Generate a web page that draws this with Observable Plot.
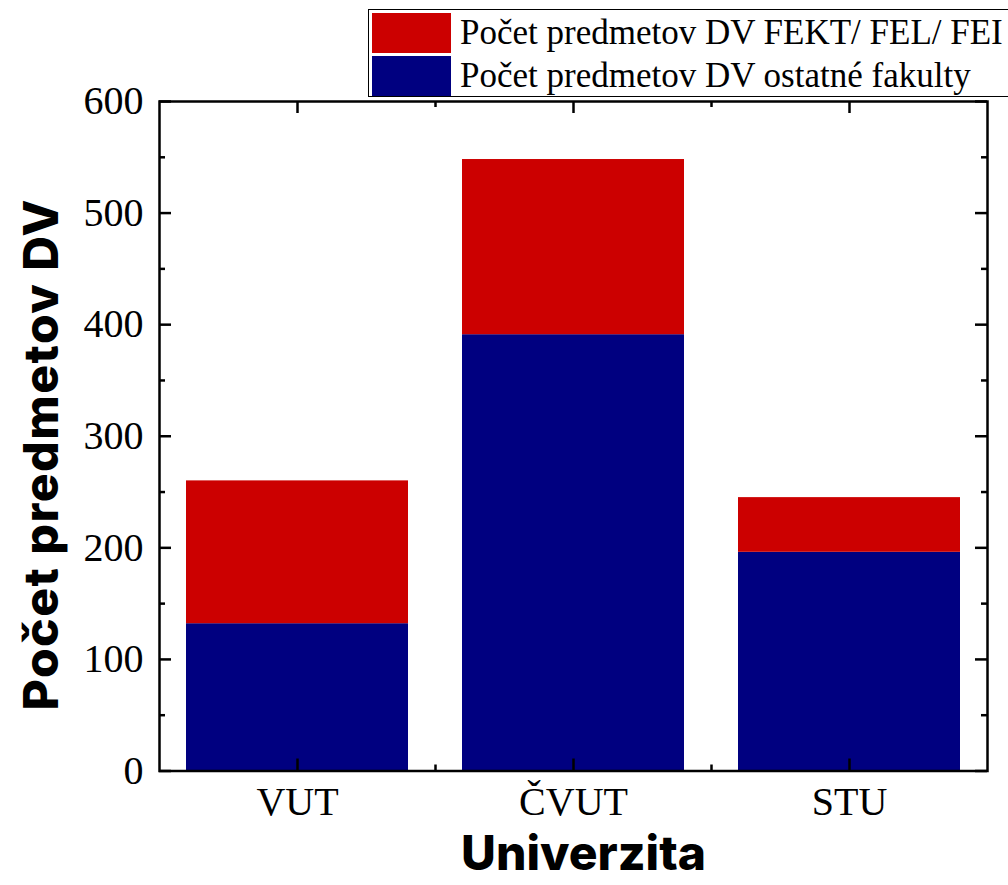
<!DOCTYPE html>
<html>
<head>
<meta charset="utf-8">
<script src="https://cdn.jsdelivr.net/npm/d3@7"></script>
<script src="https://cdn.jsdelivr.net/npm/@observablehq/plot@0.6"></script>
<style>
  html, body { margin: 0; padding: 0; background: #fff; }
  #wrap { position: relative; width: 1008px; height: 885px; overflow: hidden; }
  #legend {
    position: absolute; left: 368px; top: 9px; width: 640px; height: 88px;
    border: 1.5px solid #000; border-right: none; background: #fff; box-sizing: border-box;
    font-family: "Liberation Serif", "Times New Roman", serif; font-size: 35px; color: #000;
  }
  .item { position: absolute; left: 3px; height: 40px; display: flex; align-items: center; }
  .sw { width: 79px; height: 40px; margin-right: 9px; flex: none; }
  .lab { white-space: nowrap; line-height: 40px; }
</style>
</head>
<body>
<div id="wrap"></div>
<script>
// ---- data ----
const universities = ["VUT", "ČVUT", "STU"];
const seriesNames = ["Počet predmetov DV ostatné fakulty", "Počet predmetov DV FEKT/ FEL/ FEI"];
const otherFaculties = [132, 391, 196];
const electroFaculties = [128, 157, 49];
const seriesColors = ["#000080", "#cc0000"];
const legendOrder = ["Počet predmetov DV FEKT/ FEL/ FEI", "Počet predmetov DV ostatné fakulty"];
const yMajorTicks = [0, 100, 200, 300, 400, 500, 600];
const yMinorTicks = [50, 150, 250, 350, 450, 550];
const xTitle = "Univerzita";
const yTitle = "Počet predmetov DV";

const rows = [];
universities.forEach((u, i) => {
  rows.push({univ: u, series: seriesNames[0], value: otherFaculties[i]});
  rows.push({univ: u, series: seriesNames[1], value: electroFaculties[i]});
});

// ---- layout ----
const W = 1008, H = 885;
const mL = 159, mR = 21, mT = 101, mB = 114.5;
const plotW = W - mL - mR, plotH = H - mT - mB;
const padIn = 0.194, padOut = 0.097;
const step = plotW / (universities.length - padIn + 2 * padOut);
const major = 12, minor = 6, sw = 2.5;
const serif = "Liberation Serif, Times New Roman, serif";
const sans = "Inter, Roboto, sans-serif";

const chart = Plot.plot({
  width: W, height: H,
  marginLeft: mL, marginRight: mR, marginTop: mT, marginBottom: mB,
  style: {background: "#fff"},
  x: {type: "band", domain: universities, paddingInner: padIn, paddingOuter: padOut, label: null},
  y: {domain: [0, 600], label: null},
  color: {domain: seriesNames, range: seriesColors},
  marks: [
    Plot.barY(rows, {x: "univ", y: "value", fill: "series"}),
    // axes labels only
    Plot.axisY(yMajorTicks, {tickSize: 0, tickPadding: 16, fontSize: 40, fontFamily: serif, fill: "#000", label: null}),
    Plot.axisX(universities, {tickSize: 0, tickPadding: 16, fontSize: 40, fontFamily: serif, fill: "#000", label: null}),
    // inward ticks: left
    Plot.tickY(yMajorTicks, {y: d => d, insetRight: plotW - major, stroke: "#000", strokeWidth: sw}),
    Plot.tickY(yMinorTicks, {y: d => d, insetRight: plotW - minor, stroke: "#000", strokeWidth: sw}),
    // right
    Plot.tickY(yMajorTicks, {y: d => d, insetLeft: plotW - major, stroke: "#000", strokeWidth: sw}),
    Plot.tickY(yMinorTicks, {y: d => d, insetLeft: plotW - minor, stroke: "#000", strokeWidth: sw}),
    // bottom
    Plot.tickX(universities, {x: d => d, insetTop: plotH - major, stroke: "#000", strokeWidth: sw}),
    Plot.tickX(universities.slice(0, -1), {x: d => d, dx: step / 2, insetTop: plotH - minor, stroke: "#000", strokeWidth: sw}),
    // top
    Plot.tickX(universities, {x: d => d, insetBottom: plotH - major, stroke: "#000", strokeWidth: sw}),
    Plot.tickX(universities.slice(0, -1), {x: d => d, dx: step / 2, insetBottom: plotH - minor, stroke: "#000", strokeWidth: sw}),
    Plot.frame({stroke: "#000", strokeWidth: sw}),
    // titles
    Plot.text([yTitle], {frameAnchor: "left", rotate: -90, dx: -117, dy: 18, text: d => d,
      fontSize: 48, fontWeight: 800, fontFamily: sans, fill: "#000", textAnchor: "middle", lineAnchor: "middle",
      className: "ytitle"}),
    Plot.text([xTitle], {frameAnchor: "bottom", dx: 10, dy: 84, text: d => d,
      fontSize: 48, fontWeight: 800, fontFamily: sans, fill: "#000", textAnchor: "middle", lineAnchor: "middle"})
  ]
});

d3.select(chart).selectAll(".ytitle text").style("letter-spacing", "1.5px");

const wrap = document.getElementById("wrap");
wrap.appendChild(chart);

// legend (colours from the chart's colour scale)
const color = chart.scale("color");
const legend = document.createElement("div");
legend.id = "legend";
legendOrder.forEach((name, i) => {
  const idx = color.domain.indexOf(name);
  const item = document.createElement("div");
  item.className = "item";
  item.style.top = (3 + i * 43) + "px";
  const s = document.createElement("div");
  s.className = "sw";
  s.style.background = color.range[idx];
  const t = document.createElement("span");
  t.className = "lab";
  t.textContent = name;
  item.appendChild(s); item.appendChild(t);
  legend.appendChild(item);
});
wrap.appendChild(legend);
</script>
</body>
</html>
